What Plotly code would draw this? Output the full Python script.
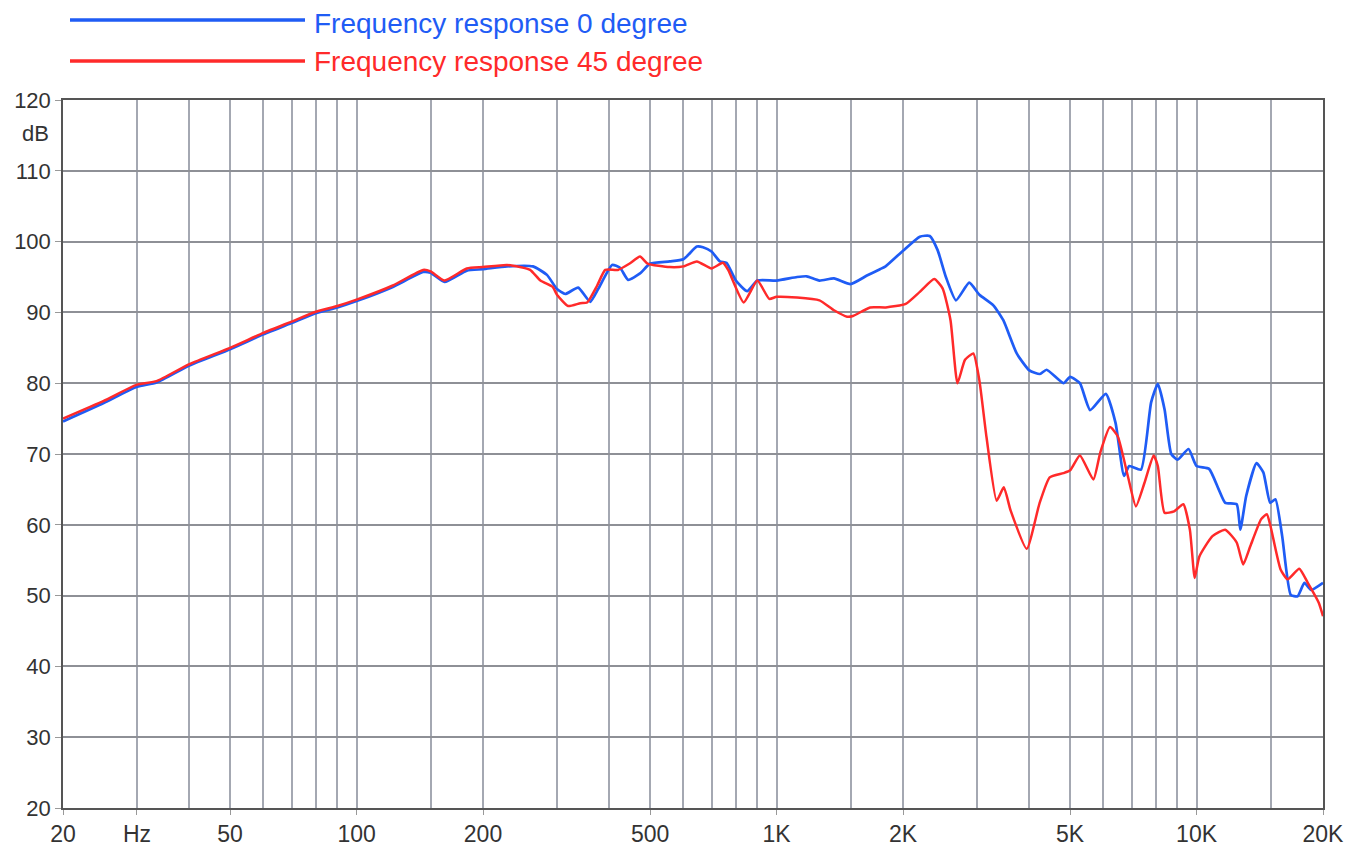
import plotly.graph_objects as go

# ---- data ----
freq_0deg = [20, 25, 30, 33.4, 40, 50, 60, 70, 80, 90, 100, 122, 144, 150, 162, 183, 200, 228, 263, 284,
             300, 314, 337, 360, 376, 406, 424, 443, 473, 500, 557, 600, 646, 668, 700, 733, 760, 800,
             851, 900, 1000, 1119, 1180, 1265, 1370, 1500, 1641, 1763, 1818, 2000, 2193, 2316, 2418,
             2530, 2674, 2876, 3040, 3282, 3466, 3731, 4000, 4236, 4395, 4820, 5000, 5275, 5580, 6080,
             6413, 6720, 6917, 7372, 7795, 8086, 8391, 8706, 9020, 9570, 10000, 10710, 11290, 11700,
             12460, 12710, 13130, 13890, 14420, 14970, 15410, 15990, 16760, 17400, 18060, 18730, 20000]
db_0deg = [74.6, 77.2, 79.5, 80.1, 82.5, 84.8, 86.9, 88.5, 89.9, 90.7, 91.6, 93.6, 95.7, 95.6, 94.3, 95.9,
           96.1, 96.5, 96.5, 95.3, 93.3, 92.6, 93.5, 91.5, 93.3, 96.7, 96.3, 94.6, 95.5, 96.9, 97.2, 97.5,
           99.3, 99.2, 98.6, 97.2, 97.0, 94.5, 93.0, 94.5, 94.5, 95.0, 95.1, 94.5, 94.8, 94.0, 95.2, 96.1,
           96.5, 98.7, 100.7, 100.8, 98.8, 95.0, 91.7, 94.2, 92.5, 91.0, 88.9, 84.2, 81.8, 81.3, 81.9,
           80.0, 80.9, 80.0, 76.2, 78.5, 74.4, 66.9, 68.3, 67.8, 77.3, 79.9, 76.3, 70.0, 69.2, 70.7, 68.3,
           67.9, 65.0, 63.1, 62.9, 59.3, 64.1, 68.7, 67.4, 63.1, 63.6, 58.4, 50.1, 49.9, 51.8, 50.8, 51.8]

freq_45deg = [20, 25, 30, 33.4, 40, 50, 60, 70, 80, 90, 100, 122, 144, 150, 162, 183, 200, 228, 245, 259,
              274, 293, 300, 319, 341, 354, 374, 391, 419, 447, 473, 493, 557, 600, 646, 700, 745, 767,
              835, 900, 961, 1000, 1119, 1265, 1370, 1472, 1520, 1670, 1820, 2030, 2193, 2374, 2485,
              2595, 2696, 2810, 2941, 3040, 3161, 3342, 3475, 3609, 3942, 4226, 4470, 4820, 5000, 5275,
              5680, 5898, 6221, 6490, 6860, 7170, 7513, 7900, 8086, 8391, 8840, 9300, 9640, 9900, 10150,
              10910, 11700, 12460, 12910, 13430, 14250, 14700, 15000, 15850, 16480, 17560, 18400, 19540,
              20000]
db_45deg = [75.0, 77.5, 79.8, 80.3, 82.7, 85.0, 87.1, 88.7, 90.1, 90.9, 91.8, 93.8, 96.0, 95.8, 94.5,
            96.2, 96.4, 96.7, 96.4, 96.0, 94.5, 93.6, 92.5, 90.9, 91.3, 91.4, 93.8, 96.0, 96.0, 96.9,
            97.9, 96.9, 96.4, 96.5, 97.2, 96.2, 97.0, 96.0, 91.4, 94.5, 91.9, 92.2, 92.1, 91.7, 90.3,
            89.4, 89.5, 90.7, 90.7, 91.2, 92.9, 94.7, 93.4, 88.9, 80.0, 83.3, 84.2, 80.4, 72.4, 63.4,
            65.3, 62.0, 56.6, 63.0, 66.7, 67.3, 67.7, 69.8, 66.4, 70.2, 73.8, 72.5, 66.9, 62.6, 65.9,
            69.8, 68.3, 61.7, 61.9, 62.9, 59.3, 52.5, 55.5, 58.4, 59.3, 57.5, 54.4, 57.0, 60.8, 61.5,
            59.8, 53.7, 52.3, 53.8, 51.8, 49.0, 47.1]

x_label_vals = [20, 30, 50, 100, 200, 500, 1000, 2000, 5000, 10000, 20000]
x_label_text = ["20", "Hz", "50", "100", "200", "500", "1K", "2K", "5K", "10K", "20K"]
x_grid_vals = [30, 40, 50, 60, 70, 80, 90, 100, 150, 200, 300, 400, 500, 600, 700, 800, 900, 1000,
               1500, 2000, 3000, 4000, 5000, 6000, 7000, 8000, 9000, 10000, 15000]
y_tick_vals = [20, 30, 40, 50, 60, 70, 80, 90, 100, 110, 120]

series_names = ["Frequency response 0 degree", "Frequency response 45 degree"]
series_colors = ["#1f5cf5", "#ff2a2a"]

FONT = "Liberation Sans, Arial, sans-serif"

fig = go.Figure()
fig.add_trace(go.Scatter(x=freq_0deg, y=db_0deg, mode="lines", name=series_names[0],
                         line=dict(color=series_colors[0], width=2.7, shape="spline", smoothing=0.5),
                         showlegend=False))
fig.add_trace(go.Scatter(x=freq_45deg, y=db_45deg, mode="lines", name=series_names[1],
                         line=dict(color=series_colors[1], width=2.5, shape="spline", smoothing=0.5),
                         showlegend=False))

grid_col = "#a4a8b2"
fig.update_xaxes(type="log", range=[1.30103, 4.30103], automargin=False,
                 tickmode="array", tickvals=x_label_vals, ticktext=x_label_text,
                 ticks="outside", ticklen=5, tickcolor="#999", showgrid=False,
                 minor=dict(tickmode="array", tickvals=x_grid_vals, showgrid=True,
                            gridcolor=grid_col, gridwidth=1.8, ticks=""),
                 showline=True, linecolor="#555", linewidth=1.5, mirror=True,
                 tickfont=dict(family=FONT, size=23, color="#333"), zeroline=False)
fig.update_yaxes(range=[20, 120], automargin=False, tickmode="array", tickvals=y_tick_vals,
                 ticks="outside", ticklen=6, tickcolor="#999",
                 showgrid=True, gridcolor="#8e9096", gridwidth=2,
                 showline=True, linecolor="#555", linewidth=1.5, mirror=True,
                 tickfont=dict(family=FONT, size=22, color="#333"), zeroline=False)

# legend drawn as lines + text at top left
legend_text_shift = [-4, -1]
for i, (nm, col) in enumerate(zip(series_names, series_colors)):
    yy = 1.0 + (80 - 41 * i) / 708
    fig.add_shape(type="line", xref="paper", yref="paper", x0=7 / 1260, x1=242 / 1260,
                  y0=yy, y1=yy, line=dict(color=col, width=3.5))
    fig.add_annotation(xref="paper", yref="paper", x=250 / 1260, y=yy, text=nm,
                       showarrow=False, xanchor="left", yanchor="middle",
                       yshift=legend_text_shift[i], borderpad=0,
                       font=dict(family=FONT, size=28, color=col))

fig.add_annotation(xref="paper", yref="y", x=0, y=115.3, text="dB", showarrow=False,
                   xanchor="right", xshift=-12, font=dict(family=FONT, size=22, color="#333"))

fig.update_layout(width=1355, height=844, margin=dict(l=55, r=40, t=92, b=44),
                  plot_bgcolor="white", paper_bgcolor="white")

fig.write_html("out.html")
